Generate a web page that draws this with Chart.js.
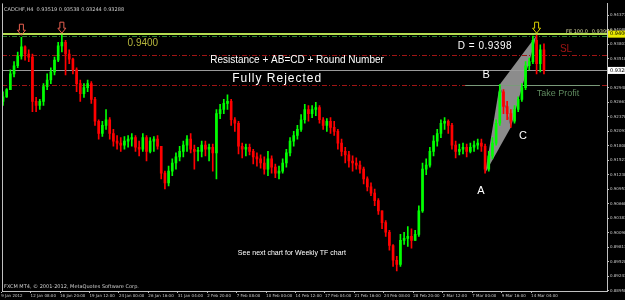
<!DOCTYPE html>
<html>
<head>
<meta charset="utf-8">
<script src="https://cdn.jsdelivr.net/npm/chart.js@4.4.1/dist/chart.umd.min.js"></script>
<style>
html, body { margin: 0; padding: 0; background: #000; }
#chart { display: block; }
</style>
</head>
<body>
<canvas id="chart" width="625" height="300"></canvas>
<script>
// CADCHF H4, one entry per two H4 bars
const firstOpen = 0.9268;
const highs = [
    0.9287, 0.9293, 0.9330, 0.9346, 0.9365, 0.9394, 0.9377, 0.9369, 0.9361, 0.9276,
    0.9272, 0.9303, 0.9322, 0.9334, 0.9355, 0.9384, 0.9398, 0.9388, 0.9369, 0.9353,
    0.9334, 0.9310, 0.9303, 0.9310, 0.9307, 0.9276, 0.9232, 0.9229, 0.9252, 0.9236,
    0.9213, 0.9201, 0.9197, 0.9199, 0.9201, 0.9205, 0.9201, 0.9190, 0.9205, 0.9201,
    0.9197, 0.9199, 0.9201, 0.9180, 0.9131, 0.9141, 0.9155, 0.9167, 0.9180, 0.9190,
    0.9201, 0.9205, 0.9182, 0.9178, 0.9190, 0.9190, 0.9184, 0.9184, 0.9252, 0.9262,
    0.9272, 0.9281, 0.9272, 0.9236, 0.9229, 0.9186, 0.9184, 0.9184, 0.9174, 0.9167,
    0.9163, 0.9159, 0.9170, 0.9161, 0.9145, 0.9141, 0.9155, 0.9174, 0.9197, 0.9209,
    0.9221, 0.9242, 0.9262, 0.9260, 0.9260, 0.9266, 0.9260, 0.9236, 0.9234, 0.9236,
    0.9229, 0.9213, 0.9194, 0.9178, 0.9170, 0.9161, 0.9157, 0.9151, 0.9139, 0.9120,
    0.9108, 0.9096, 0.9077, 0.9053, 0.9034, 0.9015, 0.8987, 0.8964, 0.9007, 0.9011,
    0.9022, 0.9018, 0.9015, 0.9063, 0.9147, 0.9155, 0.9178, 0.9201, 0.9213, 0.9232,
    0.9236, 0.9232, 0.9225, 0.9190, 0.9184, 0.9186, 0.9184, 0.9186, 0.9190, 0.9194,
    0.9194, 0.9184, 0.9170, 0.9197, 0.9232, 0.9301, 0.9291, 0.9268, 0.9252, 0.9260,
    0.9277, 0.9303, 0.9346, 0.9353, 0.9396, 0.9398, 0.9379, 0.9381
];
const lows = [
    0.9260, 0.9276, 0.9291, 0.9316, 0.9334, 0.9351, 0.9349, 0.9346, 0.9248, 0.9248,
    0.9252, 0.9260, 0.9291, 0.9303, 0.9320, 0.9346, 0.9365, 0.9320, 0.9342, 0.9322,
    0.9287, 0.9268, 0.9276, 0.9287, 0.9264, 0.9221, 0.9194, 0.9199, 0.9213, 0.9194,
    0.9180, 0.9174, 0.9170, 0.9174, 0.9178, 0.9180, 0.9170, 0.9161, 0.9170, 0.9151,
    0.9167, 0.9170, 0.9174, 0.9116, 0.9096, 0.9102, 0.9122, 0.9135, 0.9151, 0.9159,
    0.9170, 0.9167, 0.9135, 0.9151, 0.9159, 0.9161, 0.9151, 0.9131, 0.9116, 0.9234,
    0.9244, 0.9252, 0.9221, 0.9209, 0.9165, 0.9157, 0.9161, 0.9163, 0.9145, 0.9141,
    0.9137, 0.9125, 0.9122, 0.9127, 0.9118, 0.9116, 0.9127, 0.9139, 0.9161, 0.9180,
    0.9194, 0.9209, 0.9225, 0.9229, 0.9236, 0.9240, 0.9225, 0.9213, 0.9209, 0.9205,
    0.9201, 0.9174, 0.9161, 0.9147, 0.9139, 0.9131, 0.9135, 0.9127, 0.9106, 0.9092,
    0.9083, 0.9063, 0.9046, 0.9018, 0.9003, 0.8976, 0.8944, 0.8935, 0.8944, 0.8987,
    0.8983, 0.8980, 0.8995, 0.9003, 0.9050, 0.9124, 0.9139, 0.9161, 0.9180, 0.9197,
    0.9213, 0.9205, 0.9174, 0.9157, 0.9163, 0.9165, 0.9159, 0.9167, 0.9170, 0.9174,
    0.9170, 0.9127, 0.9131, 0.9155, 0.9182, 0.9221, 0.9244, 0.9232, 0.9217, 0.9225,
    0.9248, 0.9268, 0.9291, 0.9330, 0.9342, 0.9322, 0.9326, 0.9322
];
const closes = [
    0.9277, 0.9291, 0.9322, 0.9338, 0.9357, 0.9375, 0.9361, 0.9355, 0.9268, 0.9260,
    0.9268, 0.9297, 0.9310, 0.9326, 0.9349, 0.9377, 0.9384, 0.9361, 0.9351, 0.9330,
    0.9303, 0.9283, 0.9295, 0.9303, 0.9272, 0.9229, 0.9205, 0.9221, 0.9232, 0.9205,
    0.9190, 0.9186, 0.9182, 0.9190, 0.9194, 0.9197, 0.9178, 0.9174, 0.9197, 0.9170,
    0.9190, 0.9194, 0.9180, 0.9127, 0.9108, 0.9131, 0.9147, 0.9159, 0.9170, 0.9182,
    0.9194, 0.9174, 0.9170, 0.9170, 0.9182, 0.9174, 0.9178, 0.9167, 0.9244, 0.9252,
    0.9264, 0.9268, 0.9232, 0.9225, 0.9180, 0.9174, 0.9178, 0.9170, 0.9159, 0.9155,
    0.9147, 0.9135, 0.9155, 0.9139, 0.9127, 0.9131, 0.9147, 0.9167, 0.9190, 0.9201,
    0.9213, 0.9232, 0.9252, 0.9244, 0.9252, 0.9256, 0.9232, 0.9221, 0.9229, 0.9217,
    0.9209, 0.9186, 0.9170, 0.9163, 0.9151, 0.9147, 0.9143, 0.9135, 0.9116, 0.9100,
    0.9088, 0.9073, 0.9053, 0.9030, 0.9011, 0.8985, 0.8956, 0.8948, 0.8995, 0.8999,
    0.9003, 0.8995, 0.9007, 0.9053, 0.9135, 0.9143, 0.9170, 0.9190, 0.9205, 0.9225,
    0.9229, 0.9221, 0.9182, 0.9170, 0.9174, 0.9178, 0.9170, 0.9178, 0.9182, 0.9186,
    0.9180, 0.9135, 0.9161, 0.9186, 0.9225, 0.9287, 0.9258, 0.9244, 0.9229, 0.9252,
    0.9272, 0.9295, 0.9338, 0.9346, 0.9388, 0.9342, 0.9369, 0.93288
];

const xLabels = ["9 Jan 2012", "12 Jan 08:00", "16 Jan 20:00", "19 Jan 12:00", "24 Jan 00:00", "26 Jan 16:00",
    "31 Jan 04:00", "2 Feb 20:00", "7 Feb 08:00", "10 Feb 00:00", "14 Feb 12:00", "17 Feb 04:00", "21 Feb 16:00",
    "24 Feb 08:00", "28 Feb 20:00", "2 Mar 12:00", "7 Mar 00:00", "9 Mar 16:00", "14 Mar 04:00"];
const yTicks = [0.88958, 0.89243, 0.89528, 0.89813, 0.90098, 0.90383, 0.90668, 0.90953, 0.91238, 0.91523,
    0.91808, 0.92093, 0.92378, 0.92663, 0.92948, 0.93233, 0.93518, 0.93803, 0.94088, 0.94373];

// levels and the AB=CD pattern
const roundNumber = 0.9400;
const feLevel = 0.93998;
const stopLoss = 0.9359;
const bidPrice = 0.93288;
const takeProfit = 0.9301;
const patternIdx = [131, 135, 138, 145];
const patternPrice = [0.9127, 0.9301, 0.9217, 0.9398];
const fractalIdx = [5, 16];

const opens = closes.map((c, i) => (i === 0 ? firstOpen : closes[i - 1]));
const candleColor = (i) => (closes[i] >= opens[i] ? "#00ff00" : "#ff0000");

function hline(ctx, x, y, price, color, width, dash, from, to) {
    const py = Math.round(y.getPixelForValue(price)) + (width % 2 ? 0.5 : 0);
    ctx.strokeStyle = color;
    ctx.lineWidth = width;
    ctx.setLineDash(dash);
    ctx.beginPath();
    ctx.moveTo(from === undefined ? x.left : x.getPixelForValue(from), py);
    ctx.lineTo(to === undefined ? x.right : x.getPixelForValue(to), py);
    ctx.stroke();
    ctx.setLineDash([]);
}

function downArrow(ctx, cx, ty, color) {
    ctx.strokeStyle = color;
    ctx.lineWidth = 1;
    ctx.beginPath();
    ctx.moveTo(cx - 2, ty - 11);
    ctx.lineTo(cx + 2, ty - 11);
    ctx.lineTo(cx + 2, ty - 5);
    ctx.lineTo(cx + 4, ty - 5);
    ctx.lineTo(cx, ty);
    ctx.lineTo(cx - 4, ty - 5);
    ctx.lineTo(cx - 2, ty - 5);
    ctx.closePath();
    ctx.stroke();
}

const overlay = {
    id: "overlay",
    beforeDatasetsDraw(chart) {
        const { ctx, scales: { x, y } } = chart;
        ctx.save();
        const pts = patternIdx.map((i, k) => [x.getPixelForValue(i), y.getPixelForValue(patternPrice[k])]);
        ctx.fillStyle = "#8c8c8c";
        [[0, 1, 2], [1, 2, 3]].forEach((tri) => {
            ctx.beginPath();
            tri.forEach((p, j) => (j ? ctx.lineTo(pts[p][0], pts[p][1]) : ctx.moveTo(pts[p][0], pts[p][1])));
            ctx.closePath();
            ctx.fill();
        });
        hline(ctx, x, y, stopLoss, "#a01414", 1, [5, 2, 1, 2]);
        hline(ctx, x, y, takeProfit, "#a01414", 1, [5, 2, 1, 2]);
        hline(ctx, x, y, bidPrice, "#9a9a9a", 1, []);
        hline(ctx, x, y, takeProfit, "#7a9a7a", 1, [], 125.6, 162.2);
        hline(ctx, x, y, roundNumber, "#b4dc50", 2, []);
        hline(ctx, x, y, roundNumber - 0.00035, "#2a8a2a", 1, [5, 2, 1, 2]);
        ctx.restore();
    },
    afterDatasetsDraw(chart) {
        const { ctx, scales: { x, y } } = chart;
        ctx.save();
        const text = (str, i, price, font, color, align = "center", spacing = "0px") => {
            ctx.font = font;
            ctx.letterSpacing = spacing;
            ctx.fillStyle = color;
            ctx.textAlign = align;
            ctx.textBaseline = "middle";
            ctx.fillText(str, x.getPixelForValue(i), y.getPixelForValue(price));
        };
        text("Resistance + AB=CD + Round Number", 79.9, 0.93494, "10px 'Liberation Sans'", "#ffffff");
        text("Fully Rejected", 74.5, 0.93124, "12px 'Liberation Sans'", "#ffffff", "center", "1px");
        text("D = 0.9398", 123.6, 0.93766, "10px 'Liberation Sans'", "#ffffff", "left", "0.5px");
        text("B", 131.3, 0.93202, "11px 'Liberation Sans'", "#ffffff");
        text("C", 141.3, 0.91995, "11px 'Liberation Sans'", "#ffffff");
        text("A", 129.9, 0.90924, "11px 'Liberation Sans'", "#ffffff");
        text("SL", 153, 0.93708, "10px 'Liberation Sans'", "#a01414");
        text("Take Profit", 150.8, 0.92832, "9px 'Liberation Sans'", "#5f8a5f");
        text("0.9400", 38, 0.93825, "10px 'Liberation Sans'", "#b4b43c");
        text("See next chart for Weekly TF chart", 78.5, 0.89697, "7px 'Liberation Sans'", "#ffffff");
        text("FE 100.0", 153, 0.94039, "5px 'DejaVu Sans'", "#d8d8a0", "left");
        text(feLevel.toFixed(5), 160, 0.94039, "5px 'DejaVu Sans'", "#d8d8a0", "left");
        fractalIdx.forEach((i) => downArrow(ctx, x.getPixelForValue(i), y.getPixelForValue(highs[i]) - 2, "#e86050"));
        downArrow(ctx, x.getPixelForValue(patternIdx[3]), y.getPixelForValue(highs[patternIdx[3]]) - 2, "#d8d000");
        ctx.restore();
    },
    afterDraw(chart) {
        const { ctx, chartArea: a, scales: { y } } = chart;
        ctx.save();
        ctx.strokeStyle = "#c0c0c0";
        ctx.lineWidth = 1;
        ctx.beginPath();
        ctx.moveTo(a.left + 0.5, a.top);
        ctx.lineTo(a.left + 0.5, a.bottom);
        ctx.stroke();
        ctx.font = "5px 'DejaVu Sans'";
        ctx.textBaseline = "middle";
        ctx.textAlign = "left";
        ctx.fillStyle = "#d0d0d0";
        ctx.fillText("CADCHF,H4  0.93519 0.93538 0.93244 0.93288", a.left + 2, a.top + 6);
        ctx.fillText("FXCM MT4, \u00a9 2001-2012, MetaQuotes Software Corp.", a.left + 2, a.bottom - 4);
        const box = (price, bg) => {
            const py = y.getPixelForValue(price);
            ctx.fillStyle = bg;
            ctx.fillRect(a.right + 1, py - 3.5, 625 - a.right, 7);
            ctx.fillStyle = "#000";
            ctx.fillText(price.toFixed(5), a.right + 3, py);
        };
        box(roundNumber, "#e8e800");
        box(bidPrice, "#ffffff");
        ctx.restore();
    }
};

new Chart(document.getElementById("chart"), {
    type: "bar",
    data: {
        datasets: [
            { label: "wick", data: highs.map((h, i) => ({ x: i, y: [lows[i], h] })), backgroundColor: (c) => candleColor(c.dataIndex), barThickness: 1, grouped: false, borderWidth: 0 },
            { label: "body", data: closes.map((c, i) => ({ x: i, y: [opens[i], c] })), backgroundColor: (c) => candleColor(c.dataIndex), barThickness: 2, minBarLength: 1, grouped: false, borderWidth: 0 }
        ]
    },
    options: {
        responsive: false,
        animation: false,
        devicePixelRatio: 1,
        layout: { padding: { left: 2, top: 1, right: 0, bottom: 0 } },
        plugins: { legend: { display: false }, tooltip: { enabled: false } },
        scales: {
            x: {
                type: "linear", min: -0.27, max: 164.13, offset: false,
                grid: { drawOnChartArea: false, offset: false, color: "#c0c0c0", tickLength: 2 },
                border: { color: "#c0c0c0" },
                afterBuildTicks: (s) => { s.ticks = xLabels.map((_, k) => ({ value: -0.5 + 8 * k })); },
                afterFit: (s) => { s.height = 9; },
                ticks: { color: "#c8c8c8", font: { family: "DejaVu Sans", size: 4 }, padding: 1, align: "start", maxRotation: 0, autoSkip: false, callback: (v, k) => xLabels[k] }
            },
            y: {
                position: "right", min: 0.88957, max: 0.94604,
                grid: { drawOnChartArea: false, color: "#c0c0c0", tickLength: 2 },
                border: { color: "#c0c0c0" },
                afterBuildTicks: (s) => { s.ticks = yTicks.map((v) => ({ value: v })); },
                afterFit: (s) => { s.width = 18; },
                ticks: { color: "#c8c8c8", font: { family: "DejaVu Sans", size: 4 }, padding: 1, autoSkip: false, callback: (v) => v.toFixed(5) }
            }
        }
    },
    plugins: [overlay]
});
</script>
</body>
</html>
